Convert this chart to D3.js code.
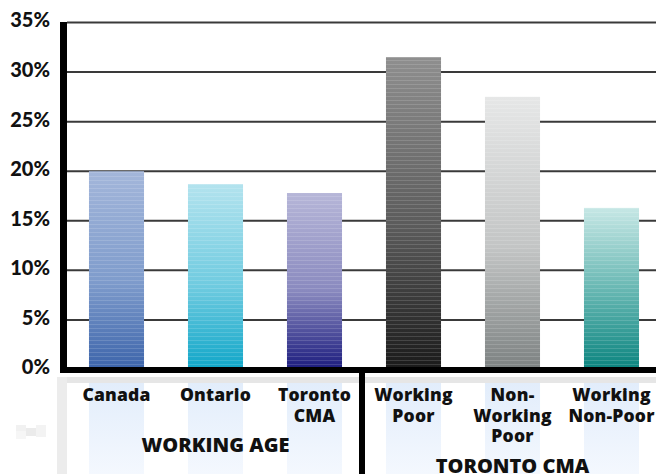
<!DOCTYPE html>
<html>
<head>
<meta charset="utf-8">
<script src="https://cdn.jsdelivr.net/npm/d3@7/dist/d3.min.js"></script>
<style>
  html, body { margin: 0; padding: 0; background: #fff; }
  svg { display: block; font-family: "Open Sans", Lato, sans-serif; }
</style>
</head>
<body>
<svg id="chart" width="656" height="474"></svg>
<script>
// Share of population, by group
const categories = ["Canada", "Ontario", "Toronto CMA", "Working Poor", "Non-Working Poor", "Working Non-Poor"];
const categoryLabels = [["Canada"], ["Ontario"], ["Toronto", "CMA"], ["Working", "Poor"], ["Non-", "Working", "Poor"], ["Working", "Non-Poor"]];
const values = [20.0, 18.7, 17.8, 31.5, 27.5, 16.3];
const groups = [
  { name: "WORKING AGE", members: ["Canada", "Ontario", "Toronto CMA"] },
  { name: "TORONTO CMA", members: ["Working Poor", "Non-Working Poor", "Working Non-Poor"] }
];
const yTicks = [0, 5, 10, 15, 20, 25, 30, 35];

// Gradient colours per bar (top, middle, bottom)
const barColors = [
  ["#a3b6da", "#7f9ccc", "#3c64aa"],
  ["#b3e3ee", "#6fcbe0", "#10a6c8"],
  ["#b6b6d8", "#8a8abf", "#1c1c7e"],
  ["#8f8f8f", "#5a5a5a", "#1a1a1a"],
  ["#e6e7e7", "#c3c5c5", "#7c8181"],
  ["#c6e7e5", "#5fb3ae", "#0b847f"]
];

const svg = d3.select("#chart");
const W = 656, H = 474;

const x = d3.scaleBand().domain(categories).range([67, 661]).paddingInner(0.444).paddingOuter(0.222);
const y = d3.scaleLinear().domain([0, 35]).range([369.5, 22.5]);

const defs = svg.append("defs");

// Vertical gradients for bars
barColors.forEach((c, i) => {
  const g = defs.append("linearGradient").attr("id", "bar" + i)
    .attr("x1", 0).attr("y1", 0).attr("x2", 0).attr("y2", 1);
  g.append("stop").attr("offset", "0%").attr("stop-color", c[0]);
  g.append("stop").attr("offset", "55%").attr("stop-color", c[1]);
  g.append("stop").attr("offset", "100%").attr("stop-color", c[2]);
});

// Fine horizontal banding overlay
const stripes = defs.append("pattern").attr("id", "stripes")
  .attr("patternUnits", "userSpaceOnUse").attr("width", 8).attr("height", 4);
stripes.append("rect").attr("width", 8).attr("height", 1).attr("fill", "#fff").attr("opacity", 0.14);

// Pale column behind each category label
const colGrad = defs.append("linearGradient").attr("id", "labelCol")
  .attr("x1", 0).attr("y1", 0).attr("x2", 0).attr("y2", 1);
colGrad.append("stop").attr("offset", "0%").attr("stop-color", "#e2edfb");
colGrad.append("stop").attr("offset", "100%").attr("stop-color", "#f4f8fe");

// Label area backdrop
svg.append("rect").attr("x", 57).attr("y", 377).attr("width", W - 57).attr("height", 6).attr("fill", "#e6e6e6");
svg.append("rect").attr("x", 57).attr("y", 377).attr("width", 10).attr("height", H - 377).attr("fill", "#ececec");
svg.append("g").selectAll("rect").data(categories).join("rect")
  .attr("x", d => x(d)).attr("y", 383)
  .attr("width", x.bandwidth()).attr("height", H - 383)
  .attr("fill", "url(#labelCol)");

// faint smudge left of the labels
svg.append("g").selectAll("rect").data([[16, 425, 10, 6, "#f1f1f1"], [26, 428, 10, 8, "#ebebeb"], [36, 425, 10, 12, "#f3f3f3"], [16, 431, 10, 8, "#f6f6f6"]])
  .join("rect").attr("x", d => d[0]).attr("y", d => d[1]).attr("width", d => d[2]).attr("height", d => d[3]).attr("fill", d => d[4]);

// Gridlines
svg.append("g").selectAll("line").data(yTicks.filter(t => t > 0)).join("line")
  .attr("x1", 67).attr("x2", W)
  .attr("y1", d => y(d)).attr("y2", d => y(d))
  .attr("stroke", "#3a3a3a").attr("stroke-width", 2);

// Bars
const bars = svg.append("g");
bars.selectAll("rect.bar").data(values).join("rect").attr("class", "bar")
  .attr("x", (d, i) => x(categories[i])).attr("y", d => y(d))
  .attr("width", x.bandwidth()).attr("height", d => y(0) - y(d))
  .attr("fill", (d, i) => `url(#bar${i})`);
bars.selectAll("rect.stripe").data(values).join("rect").attr("class", "stripe")
  .attr("x", (d, i) => x(categories[i])).attr("y", d => y(d))
  .attr("width", x.bandwidth()).attr("height", d => y(0) - y(d))
  .attr("fill", "url(#stripes)");

// Axes: heavy black lines
svg.append("rect").attr("x", 60).attr("y", 22).attr("width", 7).attr("height", 351).attr("fill", "#000");
svg.append("rect").attr("x", 60).attr("y", 367).attr("width", W - 60).attr("height", 6).attr("fill", "#000");

// Group separator, just left of the midpoint between the two groups
const sepX = (x("Toronto CMA") + x.bandwidth() + x("Working Poor")) / 2 - 2;
svg.append("rect").attr("x", sepX - 3).attr("y", 370).attr("width", 6).attr("height", H - 370).attr("fill", "#000");

// Y tick labels
const yAxis = d3.axisLeft(y).tickValues(yTicks).tickFormat(d => d + "%").tickSize(0).tickPadding(0);
const yg = svg.append("g").attr("transform", "translate(50,0)").call(yAxis);
yg.select(".domain").remove();
yg.selectAll("text")
  .attr("font-family", "Lato, sans-serif").attr("font-weight", 900)
  .attr("font-size", 20).attr("fill", "#111").attr("dy", "0.22em");

// Category labels, one text per line
const lab = svg.append("g").attr("font-weight", 800).attr("font-size", 17.5).attr("fill", "#111")
  .attr("text-anchor", "middle").attr("letter-spacing", "0.2px");
categories.forEach((c, i) => {
  categoryLabels[i].forEach((line, j) => {
    lab.append("text").attr("x", x(c) + x.bandwidth() / 2).attr("y", 401 + j * 20.5).text(line);
  });
});

// Group labels
const groupY = [452, 473];
groups.forEach((g, i) => {
  const first = x(g.members[0]);
  const last = x(g.members[g.members.length - 1]) + x.bandwidth();
  svg.append("text").attr("x", (first + last) / 2).attr("y", groupY[i])
    .attr("text-anchor", "middle").attr("font-weight", 800).attr("font-size", 20).attr("fill", "#111")
    .text(g.name);
});
</script>
</body>
</html>
